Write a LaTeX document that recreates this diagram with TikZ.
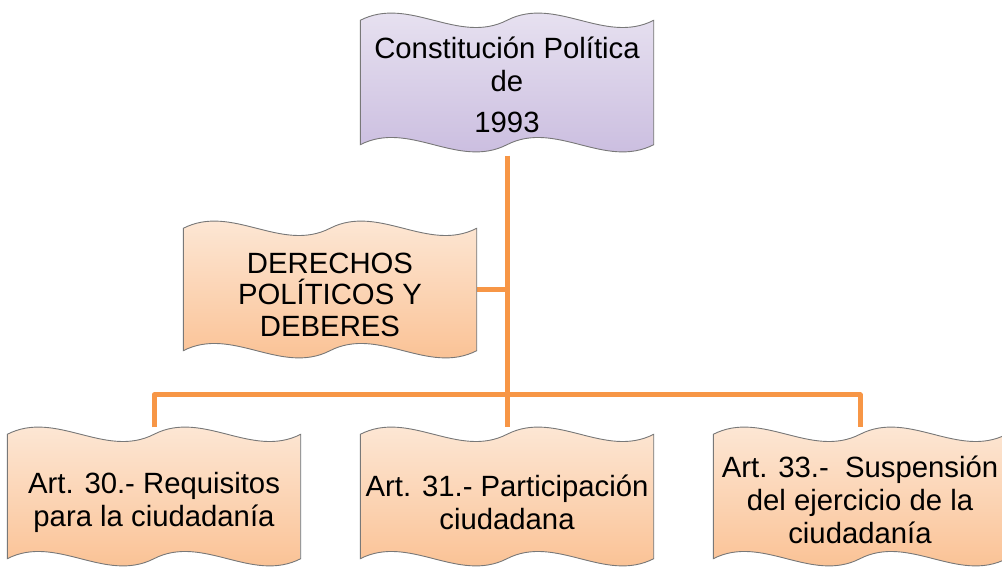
\documentclass[tikz,border=0pt]{standalone}
\usepackage{fontspec}
\setmainfont{Liberation Sans}
\usetikzlibrary{calc,backgrounds}
\definecolor{conn}{RGB}{247,150,70}
\definecolor{orT}{RGB}{253,235,220}
\definecolor{orB}{RGB}{250,190,142}
\definecolor{puT}{RGB}{234,229,242}
\definecolor{puB}{RGB}{200,186,222}
\definecolor{edge}{RGB}{120,120,120}
\newcommand\wavepath[2]{%
  \path[#2] let \p1=(#1.north west), \p2=(#1.south east),
      \n1={(\x2-\x1)/6} in
    ({\x1},{\y1-7}) .. controls ({\x1+\n1},{\y1+18}) and ({\x1+2*\n1},{\y1-32}) .. ({\x1+3*\n1},{\y1-7})
    .. controls ({\x1+4*\n1},{\y1+18}) and ({\x1+5*\n1},{\y1-32}) .. ({\x2},{\y1-7})
    -- ({\x2},{\y2+7})
    .. controls ({\x2-\n1},{\y2-18}) and ({\x2-2*\n1},{\y2+32}) .. ({\x2-3*\n1},{\y2+7})
    .. controls ({\x2-4*\n1},{\y2-18}) and ({\x2-5*\n1},{\y2+32}) .. ({\x1},{\y2+7})
    -- cycle;}
\newcommand\wavebox[3]{%
  \wavepath{#1}{fill=black,opacity=0.22,shift={(2.5,-3)}}%
  \wavepath{#1}{top color=#2,bottom color=#3,draw=edge,line width=0.9pt}}
\tikzset{
  wavenode/.style={draw=none,minimum width=293pt,minimum height=138pt,inner sep=0pt},
  boxtext/.style={align=center,text=black,inner sep=0pt,font=\fontsize{29.3}{33}\selectfont},
  connector/.style={draw=conn,line width=5pt,line join=round}
}
\begin{document}
\begin{tikzpicture}[x=1pt,y=1pt]
\useasboundingbox (0,0) rectangle (1002,567);
\node[wavenode,label={[boxtext,yshift=-2pt]center:{Constitución Política\\de\\[8pt]1993}}] (top) at (507,484.5) {};
\node[wavenode,minimum height=136pt,label={[boxtext,font=\fontsize{29.3}{31.5}\selectfont,yshift=-5pt]center:{DERECHOS\\POLÍTICOS Y\\DEBERES}}] (der) at (330,277.5) {};
\node[wavenode,label={[boxtext,yshift=-6pt]center:{Art. 30.- Requisitos\\para la ciudadanía}}] (b1) at (154,70.5) {};
\node[wavenode,label={[boxtext,yshift=-6pt]center:{Art. 31.- Participación\\ciudadana}}] (b2) at (507,70.5) {};
\node[wavenode,label={[boxtext,yshift=-3pt]center:{Art. 33.-\ \ Suspensión\\del ejercicio de la\\ciudadanía}}] (b3) at (860,70.5) {};
\coordinate (bar) at (507,172);
\begin{scope}[on background layer]
  \draw[connector] ([yshift=-4pt]top.south) -- (b2.north);
  \draw[connector] (der.east) -- (der.east -| top.south);
  \draw[connector] (b1.north) -- (b1.north |- bar) -| (b3.north);
  \wavebox{top}{puT}{puB}
  \wavebox{der}{orT}{orB}
  \wavebox{b1}{orT}{orB}
  \wavebox{b2}{orT}{orB}
  \wavebox{b3}{orT}{orB}
\end{scope}
\end{tikzpicture}
\end{document}
